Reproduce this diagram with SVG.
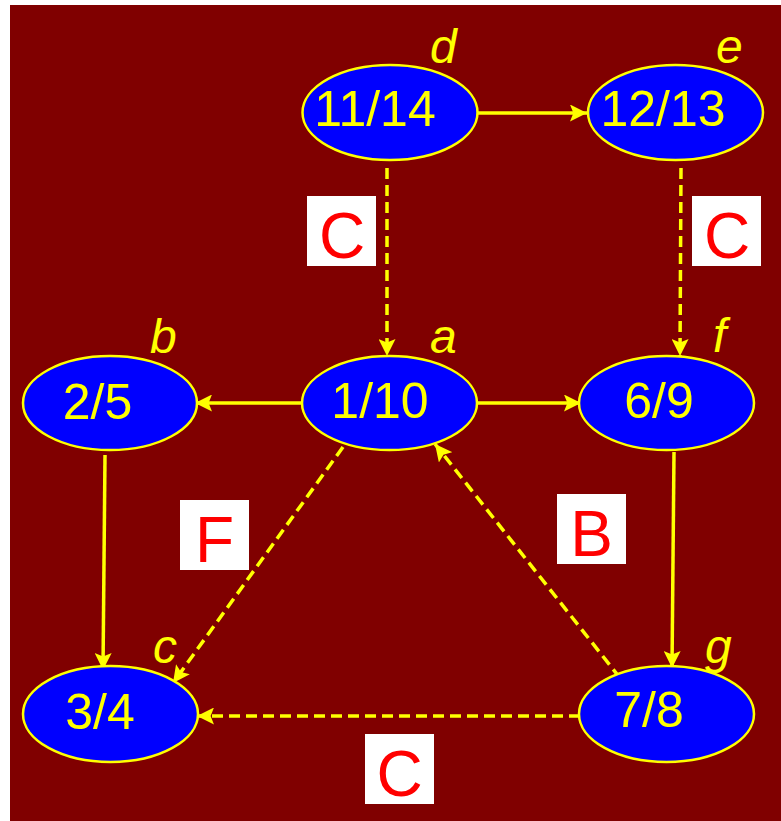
<svg xmlns="http://www.w3.org/2000/svg" width="781" height="821" viewBox="0 0 781 821">
<style>
.node ellipse{fill:#0000ff;stroke:#ffff00;stroke-width:2.5}
.num{font-family:"Liberation Sans",Arial,sans-serif;font-size:50px;fill:#ffff00}
.lbl{font-family:"Liberation Sans",Arial,sans-serif;font-size:48px;font-style:italic;fill:#ffff00}
.edge{stroke:#ffff00;stroke-width:3.5;fill:none}
.dash{stroke-dasharray:11 6}
.tag rect{fill:#ffffff}
.tag text{font-family:"Liberation Sans",Arial,sans-serif;font-size:64px;fill:#ff0000;text-anchor:middle}
</style>
<defs>
<marker id="ah" viewBox="0 0 10 10" refX="10" refY="5" markerWidth="18" markerHeight="17" markerUnits="userSpaceOnUse" orient="auto">
<path d="M0,0 L10,5 L0,10 L2,5 Z" fill="#ffff00"/>
</marker>
</defs>
<rect x="10" y="5" width="771" height="816" fill="#800000"/>
<g id="connectors">
<line class="edge" x1="478" y1="113" x2="587" y2="113" marker-end="url(#ah)"/>
<line class="edge dash" x1="387" y1="168" x2="387" y2="356" marker-end="url(#ah)"/>
<line class="edge dash" x1="681" y1="168" x2="680" y2="356" marker-end="url(#ah)"/>
<line class="edge" x1="302" y1="403" x2="195" y2="403" marker-end="url(#ah)"/>
<line class="edge" x1="477" y1="403" x2="581" y2="403" marker-end="url(#ah)"/>
<line class="edge" x1="105" y1="455" x2="103" y2="670" marker-end="url(#ah)"/>
<line class="edge" x1="674" y1="452" x2="672" y2="668" marker-end="url(#ah)"/>
<line class="edge dash" x1="343" y1="447" x2="173" y2="683" marker-end="url(#ah)"/>
<line class="edge dash" x1="620" y1="678" x2="435" y2="444" marker-end="url(#ah)"/>
<line class="edge dash" x1="580" y1="716" x2="197" y2="716" marker-end="url(#ah)"/>
</g>
<g id="node-d" class="node">
<ellipse cx="390" cy="112.5" rx="87.5" ry="47.5"/>
<text class="num" x="375" y="126" text-anchor="middle">11/14</text>
<text class="lbl" x="430" y="63">d</text>
</g>
<g id="node-e" class="node">
<ellipse cx="675.5" cy="112.5" rx="87.5" ry="47.5"/>
<text class="num" x="663" y="126" text-anchor="middle">12/13</text>
<text class="lbl" x="716" y="63">e</text>
</g>
<g id="node-a" class="node">
<ellipse cx="389.5" cy="403" rx="87.5" ry="47"/>
<text class="num" x="380" y="418" text-anchor="middle">1/10</text>
<text class="lbl" x="430" y="353">a</text>
</g>
<g id="node-b" class="node">
<ellipse cx="110" cy="403" rx="87" ry="47"/>
<text class="num" x="97.5" y="419" text-anchor="middle">2/5</text>
<text class="lbl" x="150" y="353">b</text>
</g>
<g id="node-f" class="node">
<ellipse cx="666.5" cy="403" rx="87.5" ry="47"/>
<text class="num" x="659" y="418" text-anchor="middle">6/9</text>
<text class="lbl" x="713" y="352">f</text>
</g>
<g id="node-c" class="node">
<ellipse cx="110.5" cy="714" rx="87.5" ry="48"/>
<text class="num" x="100" y="729" text-anchor="middle">3/4</text>
<text class="lbl" x="153" y="663">c</text>
</g>
<g id="node-g" class="node">
<ellipse cx="666.5" cy="714" rx="87.5" ry="48"/>
<text class="num" x="649" y="727" text-anchor="middle">7/8</text>
<text class="lbl" x="705" y="663">g</text>
</g>
<g id="tags">
<g class="tag"><rect x="307" y="196" width="69" height="70"/><text x="342" y="258">C</text></g>
<g class="tag"><rect x="692" y="196" width="69" height="70"/><text x="727" y="258">C</text></g>
<g class="tag"><rect x="180" y="500" width="69" height="70"/><text x="214.5" y="562">F</text></g>
<g class="tag"><rect x="557" y="494" width="69" height="70"/><text x="591.5" y="556">B</text></g>
<g class="tag"><rect x="365" y="734" width="69" height="70"/><text x="399.5" y="796">C</text></g>
</g>
</svg>
